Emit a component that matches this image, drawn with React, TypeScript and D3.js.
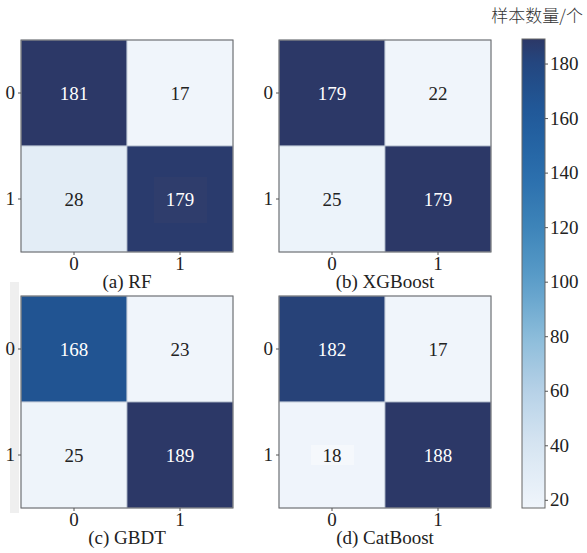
import React, { useRef, useEffect } from 'react';
import * as d3 from 'd3';

// confusion matrices, row = true label, col = predicted
const labels = ['0', '1'];
const rfValues = [[181, 17], [28, 179]];
const xgbValues = [[179, 22], [25, 179]];
const gbdtValues = [[168, 23], [25, 189]];
const catValues = [[182, 17], [18, 188]];
const panelTitles = ['(a) RF', '(b) XGBoost', '(c) GBDT', '(d) CatBoost'];
const colorTicks = [20, 40, 60, 80, 100, 120, 140, 160, 180];
const colorDomain = [17, 189];
const colorbarTitle = '样本数量/个';

const serif = '"Liberation Serif", "Times New Roman", Tinos, "DejaVu Serif", serif';

export default function App() {
  const svgRef = useRef<SVGSVGElement>(null);

  useEffect(() => {
    if (!svgRef.current) return;
    const svg = d3.select(svgRef.current);
    svg.selectAll('*').remove();

    const width = 587;
    const height = 553;
    svg.attr('width', width).attr('height', height).attr('viewBox', `0 0 ${width} ${height}`);

    // custom Blues-to-navy ramp (defined over the colorbar range)
    const color = d3.scaleLinear<string>()
      .domain([17, 40, 60, 80, 100, 120, 140, 160, 180, 189])
      .range(['#f0f5fb', '#d6e5f2', '#b6d1e7', '#8bbcda', '#5c9ec9', '#3d84b9', '#2a6dac', '#205b9c', '#244780', '#2c3867'])
      .interpolate(d3.interpolateRgb)
      .clamp(true);

    // faint grey strip on the left edge (scan artifact)
    svg.append('rect')
      .attr('x', 10).attr('y', 282).attr('width', 9).attr('height', 231)
      .attr('fill', '#efefef');

    const size = 212;
    const panels = [
      { data: rfValues, x0: 21, y0: 40 },
      { data: xgbValues, x0: 279, y0: 40 },
      { data: gbdtValues, x0: 21, y0: 296 },
      { data: catValues, x0: 279, y0: 296 },
    ];

    panels.forEach((p, pi) => {
      const g = svg.append('g').attr('transform', `translate(${p.x0},${p.y0})`);
      const x = d3.scaleBand().domain(labels).range([0, size]);
      const y = d3.scaleBand().domain(labels).range([0, size]);

      // each panel is normalised to its own min/max, like separate imshow calls
      const flat = p.data.flat();
      const norm = d3.scaleLinear()
        .domain([d3.min(flat) as number, d3.max(flat) as number])
        .range(colorDomain);

      const cells = p.data.flatMap((row, ri) => row.map((v, ci) => ({ r: labels[ri], c: labels[ci], v })));

      g.selectAll('rect.cell')
        .data(cells)
        .enter()
        .append('rect')
        .attr('class', 'cell')
        .attr('x', d => x(d.c) || 0)
        .attr('y', d => y(d.r) || 0)
        .attr('width', x.bandwidth())
        .attr('height', y.bandwidth())
        .attr('fill', d => color(norm(d.v)))
        .attr('stroke', '#b9c3d3')
        .attr('stroke-width', 0.8);

      // small text-background patches seen in the original
      if (pi === 0 || pi === 3) {
        const d = pi === 0 ? cells[3] : cells[2];
        const cx = (x(d.c) || 0) + x.bandwidth() / 2;
        const cy = (y(d.r) || 0) + y.bandwidth() / 2;
        g.append('rect')
          .attr('x', cx - (pi === 0 ? 26 : 21)).attr('y', cy - (pi === 0 ? 22 : 10))
          .attr('width', pi === 0 ? 53 : 43).attr('height', pi === 0 ? 46 : 20)
          .attr('fill', pi === 0 ? '#2f3d6c' : '#f5f8fc');
      }

      g.selectAll('text.val')
        .data(cells)
        .enter()
        .append('text')
        .attr('class', 'val')
        .attr('x', d => (x(d.c) || 0) + x.bandwidth() / 2)
        .attr('y', d => (y(d.r) || 0) + y.bandwidth() / 2)
        .attr('text-anchor', 'middle')
        .attr('dominant-baseline', 'central')
        .attr('fill', d => (norm(d.v) > 100 ? '#ffffff' : '#222222'))
        .style('font-family', serif)
        .style('font-size', '19px')
        .text(d => d.v);

      g.append('rect')
        .attr('x', 0).attr('y', 0).attr('width', size).attr('height', size)
        .attr('fill', 'none').attr('stroke', '#6b6b6b').attr('stroke-width', 1);

      g.append('g')
        .call(d3.axisLeft(y).tickSize(3).tickPadding(3))
        .call(a => a.select('.domain').remove())
        .call(a => a.selectAll('.tick line').attr('stroke', '#555'))
        .call(a => a.selectAll('.tick text')
          .attr('fill', '#222')
          .style('font-family', serif)
          .style('font-size', '19px'));

      g.append('g')
        .attr('transform', `translate(0,${size})`)
        .call(d3.axisBottom(x).tickSize(3).tickPadding(2))
        .call(a => a.select('.domain').remove())
        .call(a => a.selectAll('.tick line').attr('stroke', '#555'))
        .call(a => a.selectAll('.tick text')
          .attr('fill', '#222')
          .style('font-family', serif)
          .style('font-size', '19px'));

      g.append('text')
        .attr('x', size / 2)
        .attr('y', size + 36)
        .attr('text-anchor', 'middle')
        .attr('fill', '#222')
        .style('font-family', serif)
        .style('font-size', '19px')
        .text(panelTitles[pi]);
    });

    // colorbar
    const cbX = 522;
    const cbW = 23;
    const cbTop = 39;
    const cbBottom = 508;
    const cy = d3.scaleLinear().domain(colorDomain).range([cbBottom, cbTop]);

    const defs = svg.append('defs');
    const grad = defs.append('linearGradient')
      .attr('id', 'cbgrad')
      .attr('x1', '0').attr('y1', '1').attr('x2', '0').attr('y2', '0');
    d3.range(0, 1.0001, 0.05).forEach(t => {
      const v = colorDomain[0] + t * (colorDomain[1] - colorDomain[0]);
      grad.append('stop').attr('offset', `${t * 100}%`).attr('stop-color', color(v));
    });

    svg.append('rect')
      .attr('x', cbX).attr('y', cbTop).attr('width', cbW).attr('height', cbBottom - cbTop)
      .attr('fill', 'url(#cbgrad)')
      .attr('stroke', '#666').attr('stroke-width', 1);

    svg.append('g')
      .attr('transform', `translate(${cbX + cbW},0)`)
      .call(d3.axisRight(cy).tickValues(colorTicks).tickSize(3).tickPadding(2))
      .call(a => a.select('.domain').remove())
      .call(a => a.selectAll('.tick line').attr('stroke', '#555'))
      .call(a => a.selectAll('.tick text')
        .attr('fill', '#222')
        .style('font-family', serif)
        .style('font-size', '19px'));

    svg.append('text')
      .attr('x', 583)
      .attr('y', 22)
      .attr('text-anchor', 'end')
      .attr('fill', '#333')
      .style('font-family', '"Noto Sans CJK SC", sans-serif')
      .style('font-weight', 300)
      .style('font-size', '17px')
      .text(colorbarTitle);
  }, []);

  return (
    <div style={{ position: 'absolute', left: 0, top: 0, width: 587, height: 553, background: '#fff' }}>
      <svg ref={svgRef} style={{ display: 'block' }} />
    </div>
  );
}
